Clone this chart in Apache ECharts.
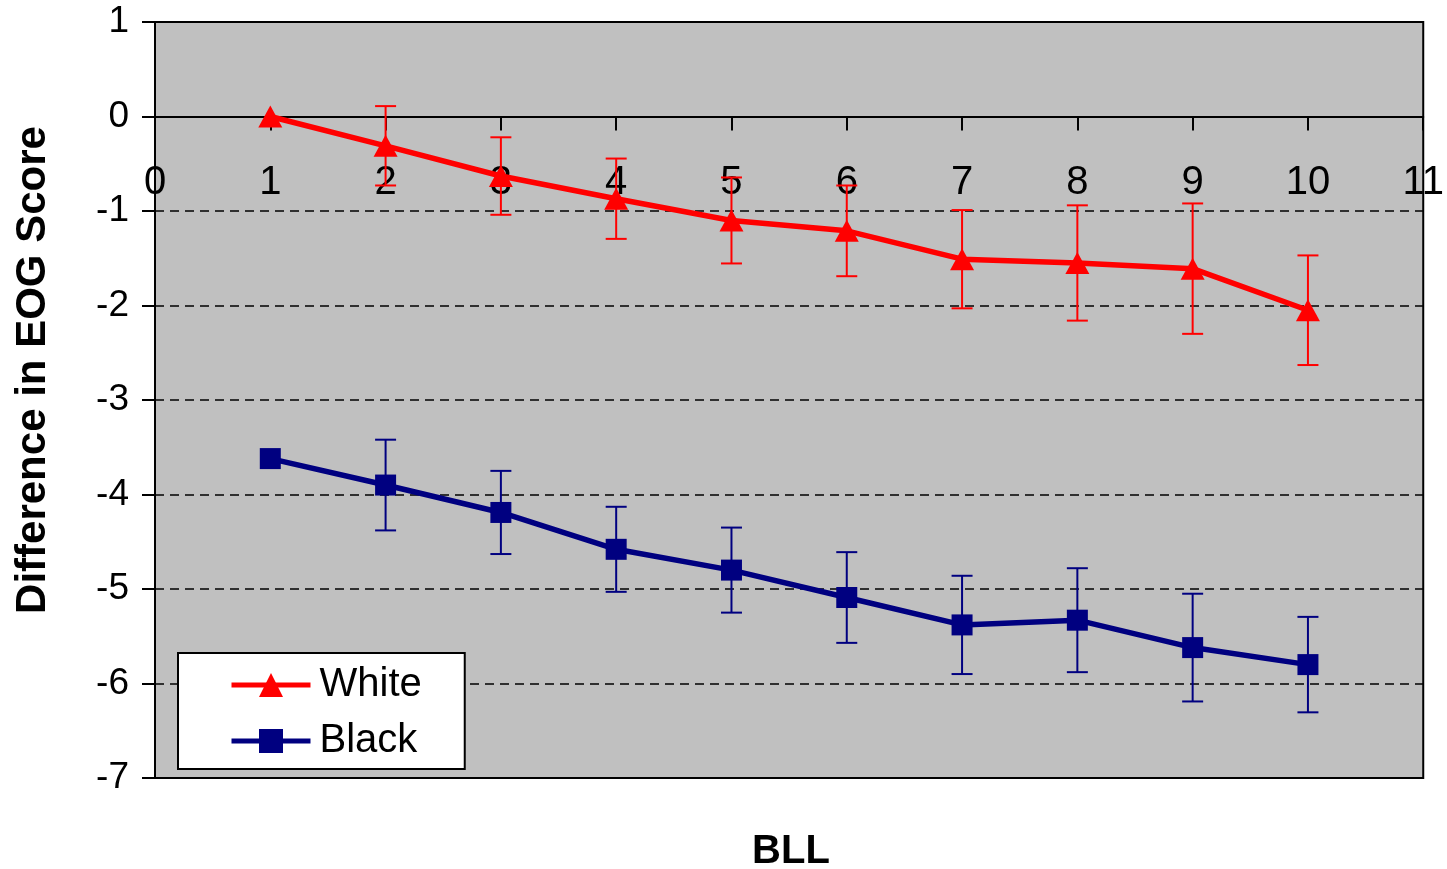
<!DOCTYPE html>
<html>
<head>
<meta charset="utf-8">
<script src="https://cdn.jsdelivr.net/npm/echarts@6/dist/echarts.min.js"></script>
<style>
  html, body { margin: 0; padding: 0; background: #ffffff; }
  #chart { width: 1447px; height: 869px; }
</style>
</head>
<body>
<div id="chart"></div>
<script>
// BLL levels on the x axis
var bll = [1, 2, 3, 4, 5, 6, 7, 8, 9, 10]
// mean difference in EOG score
var whiteMean = [0, -0.31, -0.63, -0.87, -1.10, -1.21, -1.51, -1.55, -1.61, -2.05]
var blackMean = [-3.62, -3.90, -4.19, -4.58, -4.80, -5.09, -5.38, -5.33, -5.62, -5.80]
// half length of each error bar (null = no bar drawn)
var whiteErr = [null, 0.42, 0.41, 0.425, 0.455, 0.48, 0.52, 0.61, 0.69, 0.58]
var blackErr = [null, 0.48, 0.44, 0.45, 0.45, 0.48, 0.52, 0.55, 0.57, 0.505]
var seriesNames = ['White', 'Black']

var FONT = '"Liberation Sans", Arial, sans-serif'

// plot box, y range 1 .. -7
var gridTop = 22
var gridBottom = 91
var plotHeight = 869 - gridTop - gridBottom
// x axis crosses at y = 0, i.e. 1/8 of the way down the plot
var xAxisOffset = -(plotHeight * 7 / 8)

function pairs(xs, ys) {
  var out = []
  for (var i = 0; i < xs.length; i++) {
    out.push([xs[i], ys[i]])
  }
  return out
}

function errRows(xs, means, errs) {
  var out = []
  for (var i = 0; i < xs.length; i++) {
    if (errs[i] == null) continue
    out.push([xs[i], means[i] - errs[i], means[i] + errs[i]])
  }
  return out
}

function errorBars(color) {
  return function(params, api) {
    var x = api.value(0)
    var lo = api.coord([x, api.value(1)])
    var hi = api.coord([x, api.value(2)])
    var half = 10.5
    var style = { stroke: color, lineWidth: 2 }
    return {
      type: 'group',
      children: [
        { type: 'line', shape: { x1: hi[0], y1: hi[1], x2: lo[0], y2: lo[1] }, style: style },
        { type: 'line', shape: { x1: hi[0] - half, y1: hi[1], x2: hi[0] + half, y2: hi[1] }, style: style },
        { type: 'line', shape: { x1: lo[0] - half, y1: lo[1], x2: lo[0] + half, y2: lo[1] }, style: style }
      ]
    }
  }
}

var myChart = echarts.init(document.getElementById('chart'), null, { renderer: 'canvas' })

var option = {
  backgroundColor: '#ffffff',
  animation: false,
  textStyle: { fontFamily: FONT },
  grid: {
    left: 155,
    right: 21,
    top: gridTop,
    bottom: gridBottom,
    show: true,
    backgroundColor: '#c0c0c0',
    borderColor: '#000000',
    borderWidth: 2
  },
  xAxis: {
    type: 'value',
    position: 'bottom',
    offset: xAxisOffset,
    min: 0,
    max: 11,
    interval: 1,
    axisLine: { onZero: false, lineStyle: { color: '#000000', width: 2 } },
    axisTick: { show: true, length: 14, lineStyle: { color: '#000000', width: 2 } },
    axisLabel: { color: '#000000', fontSize: 40, margin: 46, fontFamily: FONT, showMinLabel: true, showMaxLabel: true },
    splitLine: { show: false }
  },
  yAxis: {
    type: 'value',
    min: -7,
    max: 1,
    interval: 1,
    axisLine: { show: true, onZero: false, lineStyle: { color: '#000000', width: 2 } },
    axisTick: { show: true, length: 13, lineStyle: { color: '#000000', width: 2 } },
    axisLabel: { color: '#000000', fontSize: 37, margin: 26, fontFamily: FONT },
    splitLine: {
      show: true,
      lineStyle: { color: '#000000', width: 1.5, type: [9, 6] }
    }
  },
  legend: {
    data: seriesNames,
    orient: 'vertical',
    left: 178,
    top: 653,
    padding: [12, 43, 8, 51],
    itemGap: 16,
    itemWidth: 79,
    itemHeight: 30,
    backgroundColor: '#ffffff',
    borderColor: '#000000',
    borderWidth: 2,
    lineStyle: { width: 5 },
    textStyle: { color: '#000000', fontSize: 40, fontFamily: FONT, padding: [0, 0, 0, 4] }
  },
  graphic: [
    {
      type: 'text',
      x: 33,
      y: 370,
      rotation: Math.PI / 2,
      style: {
        text: 'Difference in EOG Score',
        fontSize: 42,
        fontWeight: 'bold',
        fontFamily: FONT,
        fill: '#000000',
        align: 'center',
        verticalAlign: 'middle'
      }
    },
    {
      type: 'text',
      x: 791,
      y: 852,
      style: {
        text: 'BLL',
        fontSize: 40,
        fontWeight: 'bold',
        fontFamily: FONT,
        fill: '#000000',
        align: 'center',
        verticalAlign: 'middle'
      }
    }
  ],
  series: [
    {
      name: 'White err',
      type: 'custom',
      data: errRows(bll, whiteMean, whiteErr),
      encode: { x: 0, y: [1, 2] },
      renderItem: errorBars('#ff0000'),
      z: 2
    },
    {
      name: 'Black err',
      type: 'custom',
      data: errRows(bll, blackMean, blackErr),
      encode: { x: 0, y: [1, 2] },
      renderItem: errorBars('#000080'),
      z: 2
    },
    {
      name: 'White',
      type: 'line',
      data: pairs(bll, whiteMean),
      symbol: 'triangle',
      symbolSize: [24, 22],
      showAllSymbol: true,
      color: '#ff0000',
      lineStyle: { color: '#ff0000', width: 5.5 },
      itemStyle: { color: '#ff0000' },
      z: 3
    },
    {
      name: 'Black',
      type: 'line',
      data: pairs(bll, blackMean),
      symbol: 'rect',
      symbolSize: 21,
      showAllSymbol: true,
      color: '#000080',
      lineStyle: { color: '#000080', width: 5.5 },
      itemStyle: { color: '#000080' },
      z: 3
    }
  ]
}

myChart.setOption(option, true)
window.addEventListener('resize', () => {
  myChart.resize()
})
</script>
</body>
</html>
